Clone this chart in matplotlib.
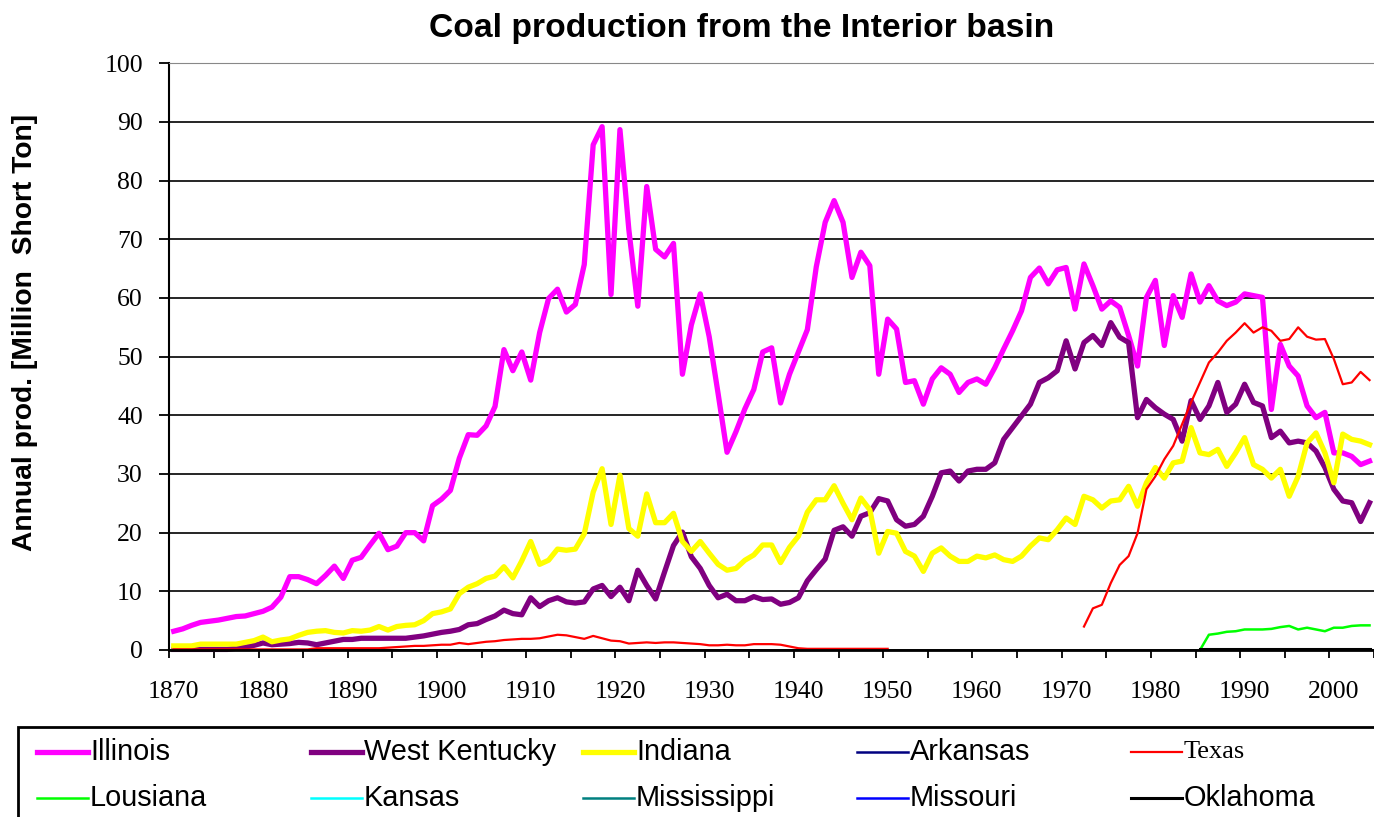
import matplotlib
matplotlib.use("Agg")
import matplotlib.pyplot as plt
import numpy as np
from matplotlib.lines import Line2D
from matplotlib.patches import Rectangle

nan = np.nan

# annual production, million short tons, 1870..2004
years = np.arange(1870, 2005)

illinois = [
    3.2, 3.6, 4.2, 4.7, 4.9, 5.1, 5.4, 5.7, 5.8, 6.2,
    6.6, 7.3, 9.0, 12.5, 12.5, 12.0, 11.3, 12.7, 14.3, 12.2,
    15.3, 15.8, 17.9, 19.9, 17.1, 17.7, 20.0, 20.0, 18.6, 24.6,
    25.7, 27.2, 32.7, 36.7, 36.6, 38.2, 41.5, 51.2, 47.6, 50.8,
    46.0, 54.1, 59.9, 61.5, 57.6, 58.9, 65.7, 86.1, 89.2, 60.6,
    88.7, 71.6, 58.6, 79.0, 68.3, 67.0, 69.3, 47.0, 55.4, 60.7,
    53.4, 43.7, 33.7, 37.2, 41.1, 44.4, 50.8, 51.5, 42.1, 47.0,
    50.8, 54.6, 65.3, 72.9, 76.6, 72.9, 63.5, 67.8, 65.5, 47.0,
    56.4, 54.7, 45.6, 45.9, 41.9, 46.2, 48.1, 47.0, 43.9, 45.6,
    46.2, 45.3, 48.1, 51.3, 54.4, 57.8, 63.5, 65.1, 62.4, 64.8,
    65.2, 58.1, 65.8, 62.1, 58.1, 59.5, 58.4, 53.6, 48.4, 60.1,
    63.0, 51.9, 60.4, 56.7, 64.1, 59.3, 62.1, 59.5, 58.7, 59.3,
    60.7, 60.4, 60.1, 41.0, 52.1, 48.4, 46.7, 41.6, 39.6, 40.5,
    33.6, 33.6, 33.0, 31.6, 32.2,
]

west_kentucky = [
    0.1, 0.1, 0.1, 0.1, 0.1, 0.1, 0.1, 0.3, 0.5, 0.8,
    1.2, 0.9, 1.0, 1.1, 1.3, 1.2, 0.9, 1.2, 1.5, 1.8,
    1.8, 2.0, 2.0, 2.0, 2.0, 2.0, 2.0, 2.2, 2.4, 2.7,
    3.0, 3.2, 3.5, 4.3, 4.5, 5.2, 5.8, 6.8, 6.2, 6.0,
    8.9, 7.4, 8.4, 8.9, 8.2, 8.0, 8.2, 10.4, 11.0, 9.1,
    10.7, 8.4, 13.6, 11.0, 8.7, 13.3, 17.8, 20.1, 15.9, 13.9,
    11.0, 8.9, 9.5, 8.4, 8.4, 9.1, 8.6, 8.7, 7.8, 8.1,
    8.9, 11.8, 13.7, 15.5, 20.4, 21.0, 19.4, 22.8, 23.4, 25.8,
    25.4, 22.2, 21.1, 21.4, 22.8, 26.2, 30.2, 30.5, 28.8, 30.5,
    30.8, 30.8, 31.9, 35.9, 37.9, 39.9, 41.9, 45.6, 46.4, 47.6,
    52.7, 47.9, 52.4, 53.6, 51.9, 55.8, 53.3, 52.4, 39.6, 42.7,
    41.3, 40.2, 39.3, 35.6, 42.5, 39.3, 41.6, 45.6, 40.5, 41.9,
    45.3, 42.2, 41.6, 36.2, 37.3, 35.3, 35.6, 35.3, 33.9, 31.1,
    27.4, 25.4, 25.1, 21.9, 25.1,
]

indiana = [
    0.7, 0.7, 0.7, 1.0, 1.0, 1.0, 1.0, 1.0, 1.3, 1.6,
    2.2, 1.4, 1.7, 1.9, 2.5, 3.0, 3.2, 3.3, 3.0, 2.9,
    3.3, 3.2, 3.4, 4.0, 3.4, 4.0, 4.2, 4.3, 5.0, 6.2,
    6.5, 7.0, 9.6, 10.7, 11.3, 12.2, 12.6, 14.2, 12.3, 15.2,
    18.5, 14.6, 15.3, 17.2, 17.0, 17.2, 19.8, 26.9, 30.9, 21.4,
    29.8, 20.7, 19.4, 26.6, 21.7, 21.7, 23.3, 18.5, 16.8, 18.5,
    16.5, 14.6, 13.6, 13.9, 15.3, 16.2, 17.9, 17.9, 14.9, 17.5,
    19.4, 23.5, 25.6, 25.6, 28.0, 25.0, 22.2, 25.9, 23.9, 16.5,
    20.2, 19.9, 16.8, 16.0, 13.4, 16.5, 17.4, 16.0, 15.1, 15.1,
    16.0, 15.7, 16.2, 15.4, 15.1, 16.0, 17.7, 19.1, 18.8, 20.5,
    22.5, 21.4, 26.2, 25.6, 24.2, 25.4, 25.6, 27.9, 24.5, 28.5,
    31.1, 29.3, 31.9, 32.2, 37.9, 33.6, 33.3, 34.2, 31.3, 33.6,
    36.2, 31.6, 30.8, 29.3, 30.8, 26.2, 29.6, 35.3, 37.0, 33.6,
    28.5, 36.8, 35.9, 35.6, 35.0,
]

texas = [
    0.1, 0.1, 0.1, 0.1, 0.1, 0.1, 0.1, 0.1, 0.1, 0.1,
    0.1, 0.1, 0.1, 0.1, 0.1, 0.1, 0.3, 0.3, 0.3, 0.3,
    0.3, 0.3, 0.3, 0.3, 0.4, 0.5, 0.6, 0.7, 0.7, 0.8,
    0.9, 0.9, 1.2, 1.0, 1.2, 1.4, 1.5, 1.7, 1.8, 1.9,
    1.9, 2.0, 2.3, 2.6, 2.5, 2.2, 1.9, 2.4, 2.0, 1.6,
    1.5, 1.1, 1.2, 1.3, 1.2, 1.3, 1.3, 1.2, 1.1, 1.0,
    0.8, 0.8, 0.9, 0.8, 0.8, 1.0, 1.0, 1.0, 0.9, 0.6,
    0.3, 0.2, 0.2, 0.2, 0.2, 0.2, 0.2, 0.2, 0.2, 0.2,
    0.2, nan, nan, nan, nan, nan, nan, nan, nan, nan,
    nan, nan, nan, nan, nan, nan, nan, nan, nan, nan,
    nan, nan, 4.0, 7.1, 7.7, 11.4, 14.5, 16.0, 19.9, 27.4,
    29.6, 32.5, 34.8, 38.5, 42.2, 45.6, 49.0, 50.7, 52.7, 54.1,
    55.7, 54.1, 55.0, 54.4, 52.7, 53.0, 55.0, 53.4, 52.9, 53.0,
    49.6, 45.3, 45.6, 47.4, 46.0,
]

# these two only start in 1985
late_years = np.arange(1985, 2005)
lousiana = [0.0, 2.6, 2.8, 3.1, 3.2, 3.5, 3.5, 3.5, 3.6, 3.9,
            4.1, 3.5, 3.8, 3.5, 3.2, 3.8, 3.8, 4.1, 4.2, 4.2]
oklahoma = [0.1] * 20

# no visible production on this scale
arkansas = []
kansas = []
mississippi = []
missouri = []

W, H = 1374, 817
fig = plt.figure(figsize=(W / 100, H / 100), dpi=100)
ax = fig.add_axes([169.3 / W, 1 - 650 / H, (W - 169.3) / W, (650 - 63.3) / H])

series = [
    ("Illinois", years, illinois, "#ff00ff", 3.8),
    ("West Kentucky", years, west_kentucky, "#800080", 3.8),
    ("Indiana", years, indiana, "#ffff00", 3.8),
    ("Arkansas", [], arkansas, "#000080", 1.8),
    ("Texas", years, texas, "#ff0000", 1.6),
    ("Lousiana", late_years, lousiana, "#00ff00", 1.8),
    ("Kansas", [], kansas, "#00ffff", 1.8),
    ("Mississippi", [], mississippi, "#008080", 1.8),
    ("Missouri", [], missouri, "#0000ff", 1.8),
    ("Oklahoma", late_years, oklahoma, "#000000", 2.2),
]

for name, xs, ys, col, lw in series:
    ax.plot(xs, ys, color=col, lw=lw, label=name, clip_on=False,
            solid_joinstyle="round")

ax.set_xlim(1869.5, 2004.5)
ax.set_ylim(0, 100)

# y axis
ax.set_yticks(np.arange(0, 101, 10))
ax.grid(axis="y", color="black", lw=1.2)
ax.set_axisbelow(True)
ax.tick_params(axis="y", direction="out", length=7, width=1.3, pad=12,
               labelsize=18.5)

# x axis: labels on decades, tick marks every 5 categories
ax.set_xticks(np.arange(1870, 2001, 10))
ax.set_xticks(np.arange(1869.5, 2004.6, 5), minor=True)
ax.tick_params(axis="x", which="major", length=0, pad=22, labelsize=18.5)
ax.tick_params(axis="x", which="minor", direction="out", length=6, width=1.3)

for lab in ax.get_xticklabels() + ax.get_yticklabels():
    lab.set_family("Liberation Serif")

ax.spines["top"].set_color("#888888")
ax.spines["right"].set_visible(False)
ax.spines["left"].set_linewidth(1.5)
ax.spines["bottom"].set_linewidth(2)

fig.text(742 / W, 1 - 29 / H, "Coal production from the Interior basin",
         ha="center", va="center", fontsize=24.2, fontweight="bold",
         family="Liberation Sans")
fig.text(25 / W, 1 - 332 / H, "Annual prod. [Million  Short Ton]",
         ha="center", va="center", rotation=90, fontsize=20.3,
         fontweight="bold", family="Liberation Sans")

# legend box, drawn by hand so the columns are evenly spaced like Excel
fig.add_artist(Rectangle((17.5 / W, -0.1), 1.2, 1 - 727 / H + 0.1,
                         transform=fig.transFigure, fill=False,
                         edgecolor="black", lw=2))
col_x = [37, 311, 583, 857, 1131]
row_y = [752, 798]
for i, (name, xs, ys, col, lw) in enumerate(series):
    r, c = divmod(i, 5)
    x0, y0 = col_x[c], row_y[r]
    fig.add_artist(Line2D([x0 / W, (x0 + 51) / W], [1 - y0 / H, 1 - y0 / H],
                          transform=fig.transFigure, color=col, lw=lw))
    fam = "Liberation Serif" if name == "Texas" else "Liberation Sans"
    fs = 19 if name == "Texas" else 20.8
    fig.text((x0 + 53) / W, 1 - y0 / H, name, ha="left", va="center",
             fontsize=fs, family=fam)

fig.savefig("out.png", dpi=100)
